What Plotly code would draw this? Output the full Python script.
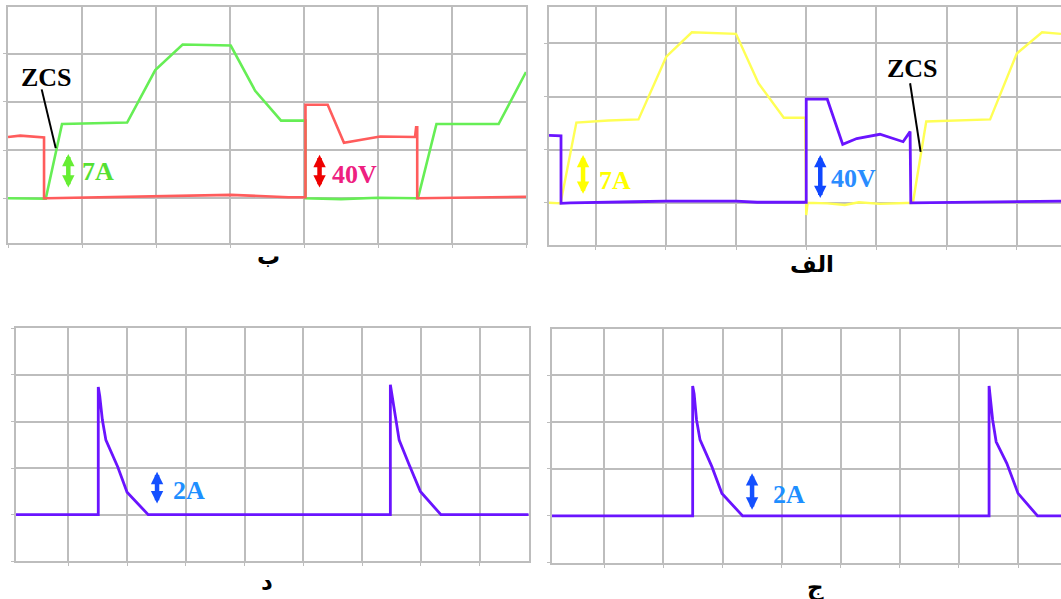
import plotly.graph_objects as go

# ---------------- data (grid-division units) ----------------
# Panel "ب" (top-left): current (green) and voltage (red)
ga_x = [0, 0.51, 0.73, 1.61, 1.99, 2.36, 3.01, 3.34, 3.69, 4.02, 4.02, 4.5, 5.0, 5.54, 5.79, 6.63, 7.0]
ga_y = [0, -0.01, 1.54, 1.57, 2.66, 3.19, 3.17, 2.23, 1.61, 1.61, 0, -0.02, 0.01, 0, 1.54, 1.54, 2.62]
ra_x = [0, 0.165, 0.487, 0.487, 0.52, 1.73, 3.01, 3.79, 4.02, 4.02, 4.32, 4.54, 5.03, 5.50, 5.515, 5.53, 5.53, 7.0]
ra_y = [1.27, 1.30, 1.26, 0, 0, 0.03, 0.07, 0.02, 0.02, 1.94, 1.94, 1.15, 1.28, 1.27, 1.47, 1.47, 0, 0.03]

# Panel "الف" (top-right): current (yellow) and voltage (purple)
yb_x = [0.335, 0.50, 0.725, 1.18, 1.61, 2.006, 2.37, 3.0, 3.32, 3.68, 3.985, 4.0, 4.02, 4.3, 4.55, 4.75, 5.05, 5.52, 5.71, 6.10, 6.62, 7.0, 7.36, 7.63]
yb_y = [0, -0.01, 1.51, 1.55, 1.57, 2.75, 3.21, 3.18, 2.25, 1.60, 1.60, -0.23, 0, -0.01, -0.04, 0.01, -0.02, 0, 1.53, 1.55, 1.57, 2.81, 3.21, 3.18]
pb_x = [0.335, 0.506, 0.506, 0.64, 1.54, 2.0, 3.0, 3.3, 4.0, 4.0, 4.3, 4.52, 4.72, 5.05, 5.38, 5.48, 5.49, 6.0, 7.63]
pb_y = [1.27, 1.26, -0.01, 0, 0.02, 0.03, 0.03, 0.01, 0.01, 1.95, 1.95, 1.10, 1.21, 1.29, 1.15, 1.34, 0, 0.01, 0.03]

# Panel "د" (bottom-left): diode current (purple)
pc_x = [0.106, 1.51, 1.51, 1.535, 1.58, 1.64, 1.84, 2.0, 2.36, 6.48, 6.48, 6.51, 6.57, 6.63, 6.80, 6.99, 7.34, 8.834]
pc_y = [0, 0, 2.74, 2.55, 2.03, 1.60, 1.03, 0.48, 0, 0, 2.79, 2.55, 2.03, 1.60, 1.07, 0.50, 0, 0]

# Panel "ج" (bottom-right): diode current (purple)
pd_x = [0.115, 2.495, 2.495, 2.52, 2.56, 2.62, 2.82, 2.99, 3.34, 7.51, 7.51, 7.53, 7.57, 7.63, 7.81, 8.0, 8.33, 8.727]
pd_y = [0, 0, 2.77, 2.6, 2.05, 1.62, 1.05, 0.48, 0, 0, 2.77, 2.55, 2.05, 1.58, 1.12, 0.48, 0, 0]

captions = ["ب", "الف", "د", "ج"]
scale_labels = ["7A", "40V", "7A", "40V", "2A", "2A"]

# ---------------- figure ----------------
W, H = 1061, 599
GREEN = "#66EE55"
RED = "#FF5C5C"
YELLOW = "#FFFF55"
PURPLE = "#6A14FF"
GRID = "#BDBDBD"

fig = go.Figure()
fig.add_trace(go.Scatter(x=ga_x, y=ga_y, mode="lines", line=dict(color=GREEN, width=2.6), xaxis="x", yaxis="y"))
fig.add_trace(go.Scatter(x=ra_x, y=ra_y, mode="lines", line=dict(color=RED, width=2.6), xaxis="x", yaxis="y"))
fig.add_trace(go.Scatter(x=yb_x, y=yb_y, mode="lines", line=dict(color=YELLOW, width=2.4), xaxis="x2", yaxis="y2"))
fig.add_trace(go.Scatter(x=pb_x, y=pb_y, mode="lines", line=dict(color=PURPLE, width=2.8), xaxis="x2", yaxis="y2"))
fig.add_trace(go.Scatter(x=pc_x, y=pc_y, mode="lines", line=dict(color=PURPLE, width=2.8), xaxis="x3", yaxis="y3"))
fig.add_trace(go.Scatter(x=pd_x, y=pd_y, mode="lines", line=dict(color=PURPLE, width=2.8), xaxis="x4", yaxis="y4"))


def px_dom_x(a, b):
    return [a / W, b / W]


def px_dom_y(top, bottom):
    return [1 - bottom / H, 1 - top / H]


def xax(dom, rng, anchor, mirror):
    return dict(domain=dom, range=rng, anchor=anchor, tick0=0, dtick=1, showgrid=True,
                gridcolor=GRID, gridwidth=1.5, zeroline=False, showticklabels=False,
                ticks="outside", ticklen=3, tickcolor=GRID, showline=True, linecolor=GRID,
                linewidth=1.5, mirror=mirror, fixedrange=True)


def yax(dom, rng, anchor, mirror):
    return dict(domain=dom, range=rng, anchor=anchor, tick0=0, dtick=1, showgrid=True,
                gridcolor=GRID, gridwidth=1.5, zeroline=False, showticklabels=False,
                ticks="outside", ticklen=3, tickcolor=GRID, showline=True, linecolor=GRID,
                linewidth=1.5, mirror=mirror, fixedrange=True)


fig.update_layout(
    width=W, height=H, autosize=False,
    margin=dict(l=0, r=0, t=0, b=0),
    paper_bgcolor="white", plot_bgcolor="white",
    showlegend=False,
    xaxis=xax(px_dom_x(8, 526), [0, 7], "y", True),
    yaxis=yax(px_dom_y(7, 243), [-0.93, 3.97], "x", True),
    xaxis2=xax(px_dom_x(549, 1061), [0.335, 7.63], "y2", True),
    yaxis2=yax(px_dom_y(7.3, 245.3), [-0.80, 3.68], "x2", False),
    xaxis3=xax(px_dom_x(15.7, 528.7), [0.105, 8.834], "y3", True),
    yaxis3=yax(px_dom_y(328.3, 561.3), [-1, 4], "x3", True),
    xaxis4=xax(px_dom_x(552, 1061), [0.115, 8.727], "y4", True),
    yaxis4=yax(px_dom_y(328.7, 563.3), [-1.01, 3.99], "x4", False),
)

SERIF = "Liberation Serif"
ann = []


def label(text, x, y, xr, yr, color, size=26):
    ann.append(dict(text="<b>%s</b>" % text, x=x, y=y, xref=xr, yref=yr, showarrow=False,
                    font=dict(family=SERIF, size=size, color=color), xanchor="center", yanchor="middle"))


def darrow(x, y0, y1, xr, yr, color):
    ann.append(dict(text="", x=x, y=y1, ax=x, ay=y0, xref=xr, yref=yr, axref=xr, ayref=yr,
                    showarrow=True, arrowhead=2, arrowside="end+start", arrowsize=0.55,
                    arrowwidth=4.5, arrowcolor=color))


# panel ب
label("ZCS", 0.514, 2.51, "x", "y", "black")
darrow(0.815, 0.19, 0.92, "x", "y", "#66EE33")
label(scale_labels[0], 1.216, 0.55, "x", "y", "#55E033")
darrow(4.21, 0.19, 0.90, "x", "y", "#EE0000")
label(scale_labels[1], 4.68, 0.50, "x", "y", "#EE2080")
# panel الف
label("ZCS", 5.51, 2.52, "x2", "y2", "black")
darrow(0.82, 0.14, 0.90, "x2", "y2", "#FFFF00")
label(scale_labels[2], 1.27, 0.42, "x2", "y2", "#FFFF00")
darrow(4.20, 0.06, 0.90, "x2", "y2", "#1048FF")
label(scale_labels[3], 4.68, 0.45, "x2", "y2", "#2A8CFF")
# panel د
darrow(2.51, 0.21, 0.92, "x3", "y3", "#1450FF")
label(scale_labels[4], 3.05, 0.51, "x3", "y3", "#1E8FFF")
# panel ج
darrow(3.50, 0.10, 0.91, "x4", "y4", "#1450FF")
label(scale_labels[5], 4.12, 0.46, "x4", "y4", "#1E8FFF")

# captions
cap_pos = [(268, 256), (812, 264), (267, 582), (815, 587)]
for t, (cx, cy) in zip(captions, cap_pos):
    ann.append(dict(text="<b>%s</b>" % t, x=cx / W, y=1 - cy / H, xref="paper", yref="paper", showarrow=False,
                    font=dict(family="DejaVu Sans", size=23, color="black"),
                    xanchor="center", yanchor="middle"))

fig.update_layout(annotations=ann)

# ZCS pointer lines
fig.add_shape(type="line", x0=0.455, y0=2.26, x1=0.645, y1=1.04, xref="x", yref="y",
              line=dict(color="black", width=2))
fig.add_shape(type="line", x0=5.48, y0=2.25, x1=5.63, y1=0.96, xref="x2", yref="y2",
              line=dict(color="black", width=2))

fig.write_html("out.html", config={"displayModeBar": False},
               post_script="document.body.style.margin='0';document.body.style.overflow='hidden';")
